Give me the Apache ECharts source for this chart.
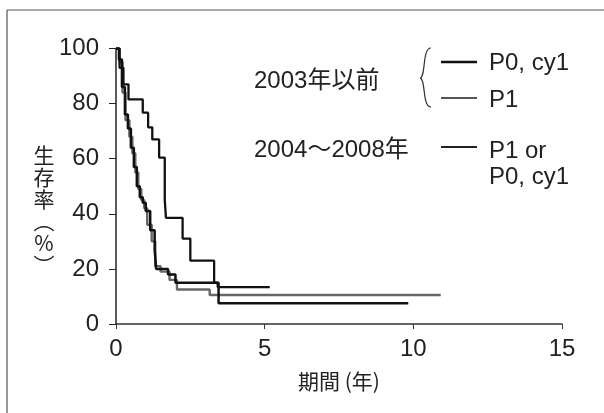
<!DOCTYPE html>
<html><head><meta charset="utf-8">
<script src="https://cdn.jsdelivr.net/npm/echarts@6/dist/echarts.min.js"></script>
<style>html,body{margin:0;padding:0;background:#fff}#c{width:604px;height:413px}</style>
</head><body><div id="c"></div>
<script>
// 2004~2008年 (P1 or P0, cy1)
const newT = [0, 0.12, 0.25, 0.42, 0.9, 1.08, 1.22, 1.45, 1.64, 1.68, 2.24, 2.5, 3.3, 3.42, 5.17];
const newS = [100, 93, 87, 81.5, 76.7, 71.4, 67, 60.4, 45, 38.5, 31, 23, 15, 13.4, 13.4];
// 2003年以前 P0, cy1
const oldP0T = [0, 0.1, 0.2, 0.3, 0.4, 0.5, 0.6, 0.7, 0.8, 0.9, 1.0, 1.15, 1.3, 1.35, 1.6, 1.75, 2.0, 3.45, 9.83];
const oldP0S = [100, 96, 86, 76, 71, 64, 57, 50, 46, 44, 41, 34, 27, 20, 20, 18, 15, 7.5, 7.5];
// 2003年以前 P1
const oldP1T = [0, 0.12, 0.22, 0.32, 0.45, 0.55, 0.65, 0.75, 0.85, 0.95, 1.05, 1.2, 1.32, 1.5, 1.8, 2.05, 3.15, 10.92];
const oldP1S = [100, 95, 84, 74, 68, 62, 55, 49, 45, 42, 36, 30, 21, 19, 16, 12.5, 10.5, 10.5];
const xTicks = [0, 5, 10, 15];
const yTicks = [0, 20, 40, 60, 80, 100];

const FONT = '"Liberation Sans", "Noto Sans CJK JP", sans-serif';
const zip = (t, s) => t.map((v, i) => [v, s[i]]);
const chart = echarts.init(document.getElementById('c'));
chart.setOption({
  animation: false,
  textStyle: {fontFamily: FONT},
  grid: {left: 116, right: 42, top: 48.5, bottom: 89},
  xAxis: {type: 'value', min: 0, max: 15, interval: 5,
    axisLine: {show: true, lineStyle: {color: '#333', width: 1.5}},
    axisTick: {show: true, length: 5, lineStyle: {color: '#333'}},
    splitLine: {show: false},
    axisLabel: {fontSize: 24, color: '#222', margin: 13, fontFamily: FONT,
      formatter: v => xTicks.includes(v) ? String(v) : ''},
    name: '期間 (年)', nameLocation: 'middle', nameGap: 47,
    nameTextStyle: {fontSize: 21, color: '#222', fontFamily: '"Noto Sans CJK JP"'}},
  yAxis: {type: 'value', min: 0, max: 100, interval: 20,
    axisLine: {show: true, lineStyle: {color: '#222', width: 1.5}},
    axisTick: {show: true, length: 7, lineStyle: {color: '#222'}},
    splitLine: {show: false},
    axisLabel: {fontSize: 24, color: '#222', margin: 17, fontFamily: FONT,
      formatter: v => yTicks.includes(v) ? String(v) : ''}},
  series: [
    {type: 'line', step: 'end', symbol: 'none', data: zip(oldP1T, oldP1S),
      lineStyle: {color: '#666', width: 2.4}},
    {type: 'line', step: 'end', symbol: 'none', data: zip(oldP0T, oldP0S),
      lineStyle: {color: '#111', width: 2.5}},
    {type: 'line', step: 'end', symbol: 'none', data: zip(newT, newS),
      lineStyle: {color: '#111', width: 2.3}}
  ],
  graphic: [
    {type: 'line', shape: {x1: 7, y1: 10, x2: 604, y2: 10}, style: {stroke: '#555', lineWidth: 1.2}},
    {type: 'line', shape: {x1: 7, y1: 10, x2: 7, y2: 413}, style: {stroke: '#555', lineWidth: 1.2}},
    {type: 'text', x: 44, y: 210, style: {text: '生\n存\n率\n︵\n%\n︶', fontSize: 21, lineHeight: 22, fill: '#222', align: 'center', verticalAlign: 'middle', fontFamily: '"Noto Sans CJK JP"'}},
    {type: 'text', x: 254, y: 81, style: {text: '2003年以前', fontSize: 24, fill: '#222', verticalAlign: 'middle', fontFamily: FONT}},
    {type: 'text', x: 254, y: 150, style: {text: '2004〜2008年', fontSize: 24, fill: '#222', verticalAlign: 'middle', fontFamily: FONT}},
    {type: 'bezierCurve', shape: {x1: 431, y1: 48, cpx1: 422, cpy1: 48, cpx2: 426, cpy2: 77, x2: 420, y2: 78}, style: {stroke: '#333', fill: 'none', lineWidth: 1.2}},
    {type: 'bezierCurve', shape: {x1: 420, y1: 78, cpx1: 426, cpy1: 79, cpx2: 422, cpy2: 107, x2: 431, y2: 107}, style: {stroke: '#333', fill: 'none', lineWidth: 1.2}},
    {type: 'line', shape: {x1: 441, y1: 62, x2: 477, y2: 62}, style: {stroke: '#111', lineWidth: 2.4}},
    {type: 'line', shape: {x1: 441, y1: 98, x2: 477, y2: 98}, style: {stroke: '#555', lineWidth: 2}},
    {type: 'line', shape: {x1: 441, y1: 147, x2: 477, y2: 147}, style: {stroke: '#222', lineWidth: 1.8}},
    {type: 'text', x: 489, y: 63, style: {text: 'P0, cy1', fontSize: 24, fill: '#222', verticalAlign: 'middle', fontFamily: FONT}},
    {type: 'text', x: 489, y: 100, style: {text: 'P1', fontSize: 24, fill: '#222', verticalAlign: 'middle', fontFamily: FONT}},
    {type: 'text', x: 489, y: 151, style: {text: 'P1 or', fontSize: 24, fill: '#222', verticalAlign: 'middle', fontFamily: FONT}},
    {type: 'text', x: 489, y: 177, style: {text: 'P0, cy1', fontSize: 24, fill: '#222', verticalAlign: 'middle', fontFamily: FONT}}
  ]
});
</script></body></html>
